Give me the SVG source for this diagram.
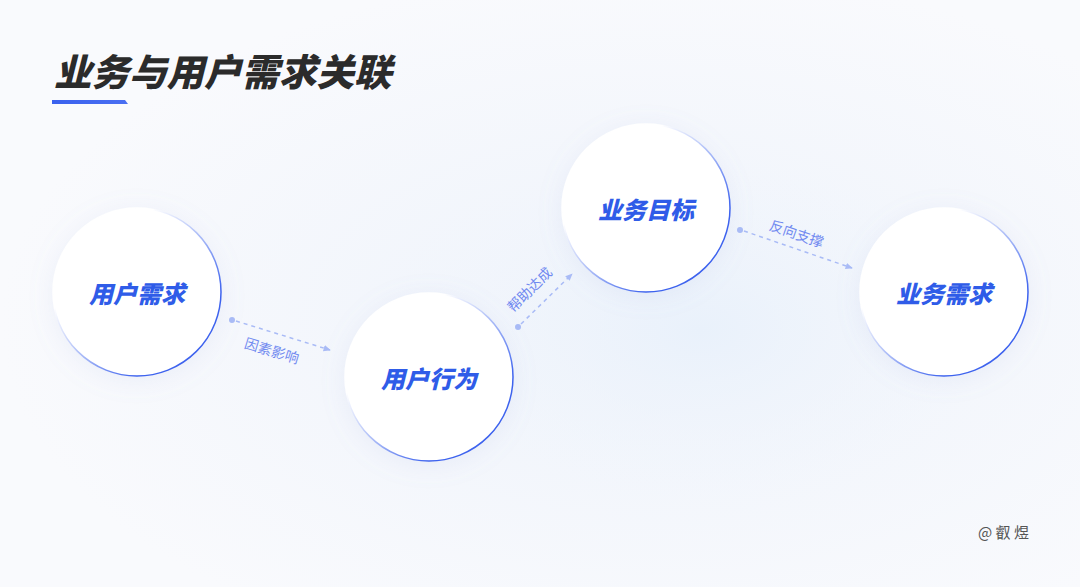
<svg xmlns="http://www.w3.org/2000/svg" width="1080" height="587" viewBox="0 0 1080 587">
<defs>
<style>
.node-text{font-family:"Noto Sans CJK SC","Noto Sans",sans-serif;font-weight:900;font-style:italic;font-size:24px;fill:#2f5ce8;text-anchor:middle;dominant-baseline:central}
.lbl{font-family:"Noto Sans CJK SC","Noto Sans",sans-serif;font-size:14px;fill:#7089f0;text-anchor:middle;dominant-baseline:central}
.conn{stroke:#a9bbf6;stroke-width:1.5;stroke-dasharray:4 4;fill:none}
.circ{fill:#ffffff;stroke:url(#ring);stroke-width:1.5;filter:url(#sh)}
</style>
<radialGradient id="bg1" cx="0.6" cy="0.55" r="0.6">
<stop offset="0" stop-color="#eef3fb"/>
<stop offset="1" stop-color="#f9fafd"/>
</radialGradient>
<radialGradient id="glow" cx="0.5" cy="0.5" r="0.5">
<stop offset="0" stop-color="#e9f1fb" stop-opacity="1"/>
<stop offset="1" stop-color="#f4f7fd" stop-opacity="0"/>
</radialGradient>
<linearGradient id="ring" x1="0" y1="0" x2="1" y2="1">
<stop offset="0.3" stop-color="#ffffff"/>
<stop offset="0.55" stop-color="#9fb2f6"/>
<stop offset="0.75" stop-color="#3e63ee"/>
<stop offset="1" stop-color="#3e63ee"/>
</linearGradient>
<linearGradient id="bar" x1="0" y1="0" x2="1" y2="0">
<stop offset="0" stop-color="#3a61ee"/>
<stop offset="1" stop-color="#4a6ff2"/>
</linearGradient>
<filter id="sh" x="-30%" y="-30%" width="160%" height="160%">
<feDropShadow dx="0" dy="4" stdDeviation="12" flood-color="#8fa3d8" flood-opacity="0.12"/>
</filter>
<marker id="arr" viewBox="0 0 10 10" refX="8" refY="5" markerWidth="8" markerHeight="8" orient="auto" markerUnits="userSpaceOnUse">
<path d="M0,1 L9,5 L0,9 Z" fill="#a9bbf6"/>
</marker>
</defs>
<rect width="1080" height="587" fill="url(#bg1)"/>
<ellipse cx="700" cy="330" rx="320" ry="200" fill="url(#glow)"/>
<g id="title">
<text x="54" y="86" font-family="Noto Sans CJK SC, sans-serif" font-weight="900" font-style="italic" font-size="37.5" fill="#2b2b2b">业务与用户需求关联</text>
<path d="M52,100 L125,100 L128,104 L52,104 Z" fill="url(#bar)"/>
</g>
<g id="connectors">
<circle cx="232" cy="320" r="3" fill="#a9bbf6"/>
<line class="conn" x1="236" y1="321" x2="330" y2="350" marker-end="url(#arr)"/>
<text class="lbl" transform="translate(272,350) rotate(17)">因素影响</text>
<circle cx="518" cy="327" r="3" fill="#a9bbf6"/>
<line class="conn" x1="521" y1="324" x2="572" y2="274" marker-end="url(#arr)"/>
<text class="lbl" transform="translate(529,289) rotate(-45)">帮助达成</text>
<circle cx="740" cy="230" r="3" fill="#a9bbf6"/>
<line class="conn" x1="744" y1="231" x2="852" y2="268" marker-end="url(#arr)"/>
<text class="lbl" transform="translate(797,233) rotate(19)">反向支撑</text>
</g>
<g id="node-yonghuxuqiu">
<circle class="circ" cx="137" cy="292" r="84"/>
<text class="node-text" x="137" y="292">用户需求</text>
</g>
<g id="node-yonghuxingwei">
<circle class="circ" cx="429" cy="377" r="84"/>
<text class="node-text" x="429" y="377">用户行为</text>
</g>
<g id="node-yewumubiao">
<circle class="circ" cx="646" cy="208" r="84"/>
<text class="node-text" x="646" y="208">业务目标</text>
</g>
<g id="node-yewuxuqiu">
<circle class="circ" cx="944" cy="292" r="84"/>
<text class="node-text" x="944" y="292">业务需求</text>
</g>
<text x="978" y="538" font-family="Noto Sans CJK SC, sans-serif" font-size="15" fill="#555555">@ 叡 煜</text>
</svg>
